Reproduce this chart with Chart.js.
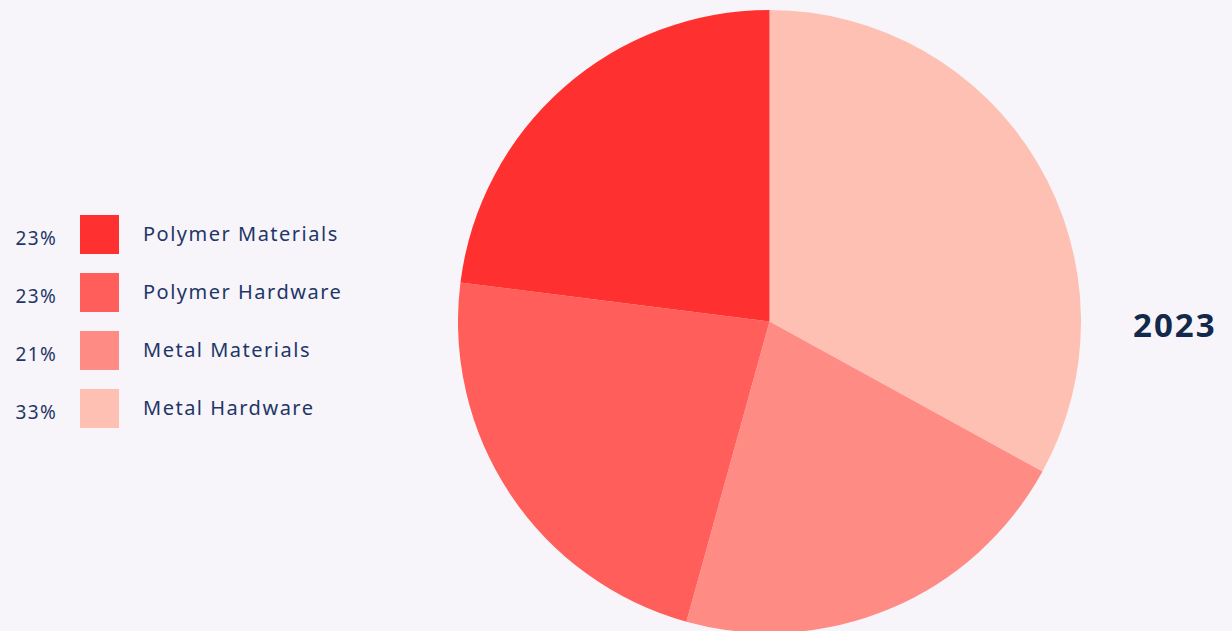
<!DOCTYPE html>
<html>
<head>
<meta charset="utf-8">
<script src="https://cdn.jsdelivr.net/npm/chart.js@4.4.1/dist/chart.umd.min.js"></script>
<style>
  html, body { margin: 0; padding: 0; background: #F7F5F9; overflow: hidden; }
  body { width: 1232px; height: 631px; position: relative; font-family: "Noto Sans", sans-serif; }
  #pieBox { position: absolute; left: 458px; top: 10px; width: 623px; height: 623px; }
  #legend { position: absolute; left: 0; top: 215px; }
  .row { position: relative; height: 58px; }
  .pct { position: absolute; left: 0; width: 57px; text-align: right; top: 10px; font-size: 19px; letter-spacing: 1.3px; color: #1F3768; }
  .box { position: absolute; left: 80px; top: 0; width: 39px; height: 39px; }
  .lbl { position: absolute; left: 143px; top: 5px; font-size: 20px; color: #1F3768; white-space: nowrap; letter-spacing: 1.5px; }
  #year { position: absolute; left: 1133px; top: 302px; font-size: 33px; font-weight: bold; letter-spacing: 2px; color: #13294B; }
</style>
</head>
<body>
<div id="legend"></div>
<div id="pieBox"><canvas id="pieChart"></canvas></div>
<div id="year">2023</div>
<script>
// parts de marche, dans l'ordre du dessin (sens horaire depuis midi)
const labels = ['Metal Hardware', 'Metal Materials', 'Polymer Hardware', 'Polymer Materials'];
const values = [33, 21.3, 22.7, 23];
const colors = ['#FFC0B4', '#FF8C84', '#FF5E5A', '#FF3030'];
const yearLabel = '2023';

// legende faite a la main, ordre inverse
const legend = document.getElementById('legend');
for (let i = labels.length - 1; i >= 0; i--) {
    const row = document.createElement('div');
    row.className = 'row';
    row.innerHTML = '<span class="pct">' + Math.round(values[i]) + '%</span>' +
        '<span class="box" style="background:' + colors[i] + '"></span>' +
        '<span class="lbl">' + labels[i] + '</span>';
    legend.appendChild(row);
}
document.getElementById('year').textContent = yearLabel;

const ctx = document.getElementById('pieChart');
new Chart(ctx, {
    type: 'pie',
    data: {
        labels: labels,
        datasets: [{
            data: values,
            backgroundColor: colors,
            borderWidth: 0
        }]
    },
    options: {
        responsive: true,
        maintainAspectRatio: false,
        animation: false,
        events: [],
        layout: { padding: 0 },
        plugins: {
            legend: { display: false },
            tooltip: { enabled: false }
        }
    }
});
</script>
</body>
</html>
